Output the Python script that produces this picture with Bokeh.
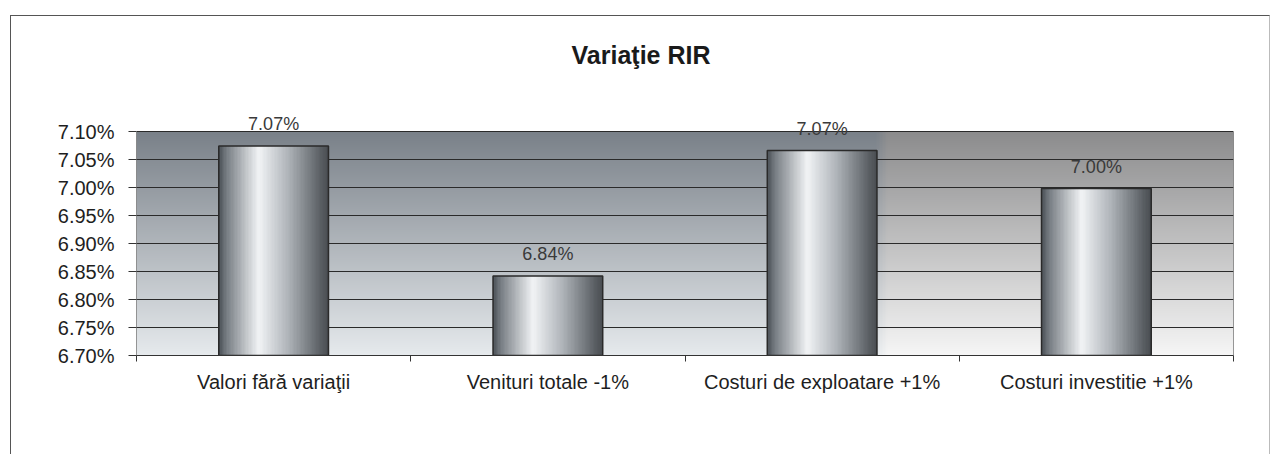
import numpy as np
from bokeh.plotting import figure
from bokeh.models import (FixedTicker, PrintfTickFormatter, Range1d,
                          ColumnDataSource)
from bokeh.core.properties import value
from bokeh.embed import file_html
from bokeh.resources import INLINE

# ---- data ----
title_text = "Variaţie RIR"
categories = ["Valori fără variaţii", "Venituri totale -1%",
              "Costuri de exploatare +1%", "Costuri investitie +1%"]
rir_values = [7.074, 6.842, 7.066, 6.998]
y_ticks = [6.70, 6.75, 6.80, 6.85, 6.90, 6.95, 7.00, 7.05, 7.10]
y_min, y_max = 6.70, 7.10

FONT = "Liberation Sans"
n = len(categories)
centers = [i + 0.5 for i in range(n)]
bar_w = 0.4

# pixel sizes of one data unit (frame: 1097 x 224 px for the value area)
px_x = n / 1097.0
px_y = (y_max - y_min) / 224.0
y_top_ext = y_max + 115 * px_y     # frame extends to the canvas top (room for title)

p = figure(width=1260, height=439,
           x_range=Range1d(0, n), y_range=Range1d(y_min, y_top_ext),
           output_backend="svg", toolbar_location=None,
           min_border_left=125, min_border_right=38,
           min_border_top=0, min_border_bottom=100)
p.styles = {"border-left": "1px solid #555", "border-top": "1px solid #555",
            "border-right": "1px solid #bbb"}
p.margin = (15, 0, 0, 10)

p.background_fill_color = "white"
p.border_fill_color = "white"
p.outline_line_color = None

# ---- background gradient of the plot area ----
H, W = 224, 400
bg = np.empty((H, W), dtype=np.uint32)
bv = bg.view(dtype=np.uint8).reshape((H, W, 4))
t = np.linspace(0, 1, H)[:, None]          # 0 bottom, 1 top
xs = np.linspace(0, 1, W)[None, :]
topL = np.array([122, 129, 137]); botL = np.array([230, 234, 237])
topR = np.array([140, 140, 141]); botR = np.array([246, 246, 246])
left = botL + (topL - botL) * t[..., None]
right = botR + (topR - botR) * t[..., None]
mix = np.clip((xs - 0.675) / 0.01, 0, 1)[..., None]
col = left * (1 - mix) + right * mix
bv[:, :, :3] = np.clip(col, 0, 255).astype(np.uint8)
bv[:, :, 3] = 255
bgr = p.image_rgba(image=[bg], x=0, y=y_min, dw=n, dh=y_max - y_min)
bgr.level = "image"

# plot-area side edges
p.segment(x0=[0, n], y0=[y_min, y_min], x1=[0, n], y1=[y_max, y_max],
          line_color="#333333", line_width=1)

# ---- cylinder-like bar shading ----
BW = 80
bar_img = np.empty((2, BW), dtype=np.uint32)
bb = bar_img.view(dtype=np.uint8).reshape((2, BW, 4))
pos = [0.0, 0.07, 0.36, 0.62, 0.88, 1.0]
cols = np.array([[78, 84, 90], [122, 128, 134], [242, 244, 246],
                 [178, 183, 188], [104, 109, 114], [72, 76, 80]])
u = np.linspace(0, 1, BW)
for c in range(3):
    bb[:, :, c] = np.interp(u, pos, cols[:, c]).astype(np.uint8)[None, :]
bb[:, :, 3] = 255

src = ColumnDataSource(dict(
    x=[c - bar_w / 2 for c in centers],
    dh=[v - y_min for v in rir_values],
    image=[bar_img] * n,
    xc=centers, top=rir_values,
    lbl=[f"{v:.2f}%" for v in rir_values],
))
p.image_rgba(image="image", x="x", y=y_min, dw=bar_w, dh="dh", source=src)
p.vbar(x="xc", top="top", bottom=y_min, width=bar_w, source=src,
       fill_alpha=0, line_color="#2a2a2a", line_width=1.5)
p.text(x="xc", y="top", text="lbl", source=src, text_align="center",
       text_baseline="bottom", y_offset=-12, text_font=value(FONT),
       text_font_size="18px", text_color="#3a3a3a")

# ---- title ----
p.text(x=[n / 2 - 44 * px_x], y=[y_max + 77 * px_y], text=[title_text],
       text_align="center", text_baseline="middle", text_font=value(FONT),
       text_font_size="25px", text_font_style="bold", text_color="#1a1a1a")

# ---- axes ----
p.yaxis.ticker = FixedTicker(ticks=y_ticks)
p.yaxis.formatter = PrintfTickFormatter(format="%.2f%%")
p.yaxis.major_label_text_font = FONT
p.yaxis.major_label_text_font_size = "20px"
p.yaxis.major_label_text_color = "#1e1e1e"
p.yaxis.major_tick_out = 8
p.yaxis.major_tick_in = 0
p.yaxis.minor_tick_line_color = None
p.yaxis.axis_line_color = None
p.yaxis.major_tick_line_color = "#333333"
p.yaxis.major_label_standoff = 14

p.xaxis.ticker = FixedTicker(ticks=centers, minor_ticks=list(range(n + 1)))
p.xaxis.major_label_overrides = {c: lab for c, lab in zip(centers, categories)}
p.xaxis.major_label_text_font = FONT
p.xaxis.major_label_text_font_size = "20px"
p.xaxis.major_label_text_color = "#1e1e1e"
p.xaxis.major_tick_out = 0
p.xaxis.major_tick_in = 0
p.xaxis.minor_tick_out = 6
p.xaxis.minor_tick_in = 0
p.xaxis.minor_tick_line_color = "#333333"
p.xaxis.axis_line_color = "#333333"
p.xaxis.major_label_standoff = 9

p.xgrid.grid_line_color = None
p.ygrid.grid_line_color = "#2a2a2a"
p.ygrid.grid_line_width = 1

open("out.html", "w").write(file_html(p, INLINE))
